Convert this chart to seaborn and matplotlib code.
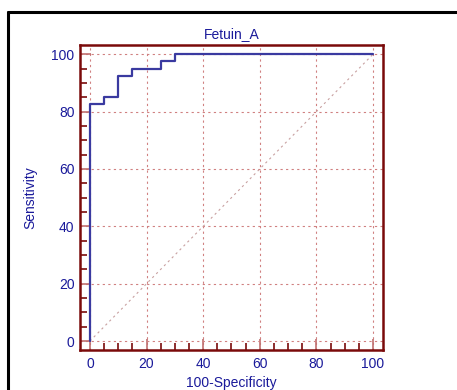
import matplotlib
matplotlib.use("Agg")
import matplotlib.pyplot as plt
import seaborn as sns
import pandas as pd
from matplotlib.ticker import MultipleLocator
from matplotlib.lines import Line2D

# ROC curve points (100-Specificity, Sensitivity)
fpr = [0, 0, 5, 5, 10, 10, 15, 15, 25, 25, 30, 30, 100]
tpr = [0, 82.5, 82.5, 85, 85, 92.5, 92.5, 95, 95, 97.5, 97.5, 100, 100]
diag = [0, 100]
ticks = [0, 20, 40, 60, 80, 100]

sns.set_style("white")
plt.rcParams["font.family"] = ["Liberation Sans", "DejaVu Sans"]

navy = "#1a1a9a"
line_col = "#3a3aa0"
frame_col = "#7a0a0a"
grid_col = "#d08080"

fig = plt.figure(figsize=(4.57, 3.90), dpi=100)
ax = fig.add_axes([0.175, 0.1026, 0.663, 0.782])

df = pd.DataFrame({"fpr": fpr, "tpr": tpr})
ax.plot(diag, diag, color="#c8a0a0", lw=0.8, ls=(0, (2, 3)), zorder=1)
sns.lineplot(data=df, x="fpr", y="tpr", sort=False, estimator=None,
             color=line_col, lw=1.6, ax=ax, zorder=3)

ax.set_xlim(-3.5, 103.5)
ax.set_ylim(-3.1, 103.2)
ax.set_xticks(ticks)
ax.set_yticks(ticks)
ax.xaxis.set_minor_locator(MultipleLocator(5))
ax.yaxis.set_minor_locator(MultipleLocator(5))
ax.tick_params(which="major", direction="in", length=8, width=1.2,
               color="#c07070", labelcolor=navy, labelsize=10, pad=4)
ax.tick_params(which="minor", direction="in", length=5, width=1.2, color=frame_col)
ax.tick_params(axis="x", which="major", pad=5)
ax.tick_params(axis="x", which="both", bottom=True)
ax.tick_params(axis="y", which="both", left=True)
ax.grid(True, which="major", color=grid_col, ls=(0, (2, 3)), lw=0.8)

for s in ax.spines.values():
    s.set_color(frame_col)
    s.set_linewidth(1.8)
    s.set_visible(True)

ax.set_title("Fetuin_A", color=navy, fontsize=10, pad=5)
ax.set_xlabel("100-Specificity", color=navy, fontsize=10, labelpad=4)
ax.set_ylabel("Sensitivity", color=navy, fontsize=10, labelpad=10)

# outer black frame (cropped screenshot)
fig.add_artist(Line2D([8 / 457, 8 / 457], [0, 1 - 12 / 390], color="black", lw=2.2,
                      transform=fig.transFigure))
fig.add_artist(Line2D([8 / 457, 1], [1 - 12 / 390, 1 - 12 / 390], color="black", lw=2.2,
                      transform=fig.transFigure))

fig.savefig("out.png", dpi=100)
